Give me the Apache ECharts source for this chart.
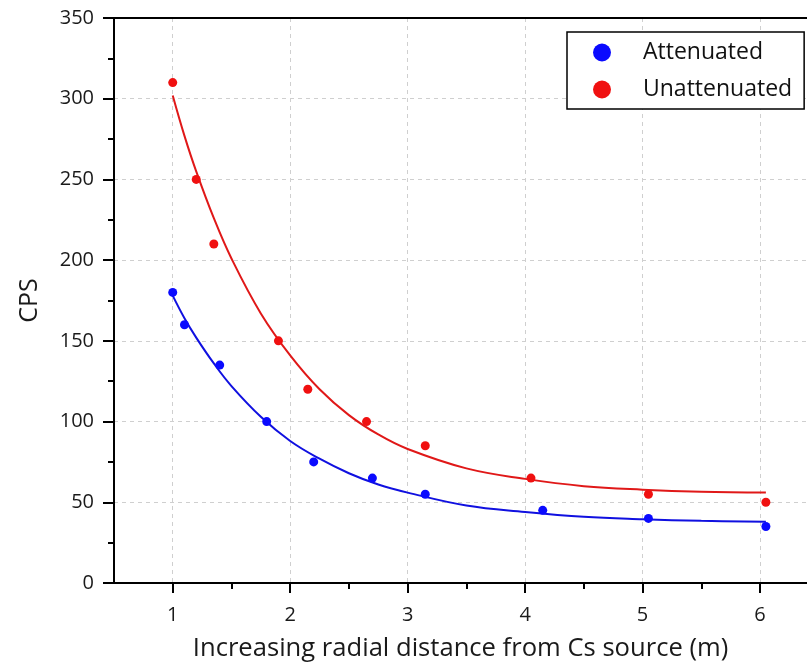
<!DOCTYPE html>
<html>
<head>
<meta charset="utf-8">
<script src="https://cdn.jsdelivr.net/npm/echarts@6/dist/echarts.min.js"></script>
<style>
html,body{margin:0;padding:0;background:#fff;}
#chart{width:807px;height:666px;}
</style>
</head>
<body>
<div id="chart"></div>
<script>
// Measured points
var attenuatedX = [1, 1.1, 1.4, 1.8, 2.2, 2.7, 3.15, 4.15, 5.05, 6.05];
var attenuatedY = [180, 160, 135, 100, 75, 65, 55, 45, 40, 35];
var unattenuatedX = [1, 1.2, 1.35, 1.9, 2.15, 2.65, 3.15, 4.05, 5.05, 6.05];
var unattenuatedY = [310, 250, 210, 150, 120, 100, 85, 65, 55, 50];

// Fit curves
var fitX = [1, 1.1, 1.2, 1.35, 1.5, 1.75, 2, 2.25, 2.5, 2.75, 3, 3.5, 4, 4.5, 5, 5.5, 6.05];
var attenuatedFitY = [178, 164, 152, 136, 122, 103, 88, 77, 68, 61, 56, 48, 44, 41, 39.5, 38.5, 38];
var unattenuatedFitY = [302, 277, 255, 226, 201, 167, 141, 120, 104, 92, 83, 71, 64.5, 60, 57.8, 56.5, 56];

var xMajorTicks = [1, 2, 3, 4, 5, 6];
var xMinorTicks = [1.5, 2.5, 3.5, 4.5, 5.5];

var legendNames = ['Attenuated', 'Unattenuated'];
var xTitle = 'Increasing radial distance from Cs source (m)';
var yTitle = 'CPS';

function zip(xs, ys) { return xs.map(function (x, i) { return [x, ys[i]]; }); }

var BLUE = '#0a0aff';
var RED = '#f01010';
var LINE_BLUE = '#1010e0';
var LINE_RED = '#e01818';
var FONT = 'Open Sans';

var chart = echarts.init(document.getElementById('chart'), null, {renderer: 'canvas'});
chart.setOption({
  animation: false,
  backgroundColor: '#fff',
  textStyle: {fontFamily: FONT},
  grid: {left: 114, top: 18, right: 0, bottom: 83, containLabel: false, outerBoundsMode: 'none'},
  legend: {
    data: legendNames,
    orient: 'vertical',
    left: 567, top: 32,
    padding: [9, 12, 8, 26],
    itemWidth: 18, itemHeight: 18, itemGap: 14,
    icon: 'circle',
    borderColor: '#000', borderWidth: 1.5,
    backgroundColor: '#fff',
    formatter: function (n) { return '{t|' + n + '}'; },
    textStyle: {
      fontFamily: FONT, fontSize: 23, color: '#111',
      rich: {t: {fontFamily: FONT, fontSize: 23, color: '#111', padding: [0, 0, 0, 27], lineHeight: 20}}
    }
  },
  xAxis: [{
    type: 'value', min: 0.5, max: 6.4,
    axisLine: {onZero: false, lineStyle: {color: '#000', width: 2}},
    axisTick: {customValues: xMajorTicks, length: 10, lineStyle: {color: '#000', width: 2}},
    axisLabel: {customValues: xMajorTicks, fontSize: 20, color: '#1a1a1a', margin: 22, fontFamily: FONT},
    splitLine: {show: true, lineStyle: {color: '#cfcfcf', type: [4, 4], width: 1}},
    name: xTitle, nameLocation: 'middle', nameGap: 53,
    nameTextStyle: {fontSize: 25.6, color: '#1a1a1a', fontFamily: FONT}
  }, {
    type: 'value', min: 0.5, max: 6.4, position: 'bottom',
    axisLine: {show: false},
    axisTick: {customValues: xMinorTicks, length: 6, lineStyle: {color: '#000', width: 2}},
    axisLabel: {show: false},
    splitLine: {show: false}
  }, {
    type: 'value', min: 0.5, max: 6.4, position: 'top',
    axisLine: {show: true, onZero: false, lineStyle: {color: '#000', width: 2}},
    axisTick: {show: false},
    axisLabel: {show: false},
    splitLine: {show: false}
  }],
  yAxis: {
    type: 'value', min: 0, max: 350, interval: 50,
    axisLine: {show: true, onZero: false, lineStyle: {color: '#000', width: 2}},
    axisTick: {show: true, length: 11, lineStyle: {color: '#000', width: 2}},
    minorTick: {show: true, splitNumber: 2, length: 6, lineStyle: {color: '#000', width: 2}},
    axisLabel: {fontSize: 20, color: '#1a1a1a', margin: 20, fontFamily: FONT},
    splitLine: {show: true, lineStyle: {color: '#cfcfcf', type: [4, 4], width: 1}},
    name: yTitle, nameLocation: 'middle', nameGap: 72, nameRotate: 90,
    nameTextStyle: {fontSize: 25, color: '#1a1a1a', fontFamily: FONT}
  },
  series: [{
    name: 'Attenuated fit', type: 'line', smooth: 0.4, showSymbol: false,
    data: zip(fitX, attenuatedFitY),
    lineStyle: {color: LINE_BLUE, width: 2}, itemStyle: {color: LINE_BLUE}, z: 2
  }, {
    name: 'Unattenuated fit', type: 'line', smooth: 0.4, showSymbol: false,
    data: zip(fitX, unattenuatedFitY),
    lineStyle: {color: LINE_RED, width: 2}, itemStyle: {color: LINE_RED}, z: 2
  }, {
    name: 'Attenuated', type: 'scatter', symbol: 'circle', symbolSize: 9,
    data: zip(attenuatedX, attenuatedY), itemStyle: {color: BLUE, opacity: 1}, z: 3
  }, {
    name: 'Unattenuated', type: 'scatter', symbol: 'circle', symbolSize: 9,
    data: zip(unattenuatedX, unattenuatedY), itemStyle: {color: RED, opacity: 1}, z: 3
  }]
});
</script>
</body>
</html>
